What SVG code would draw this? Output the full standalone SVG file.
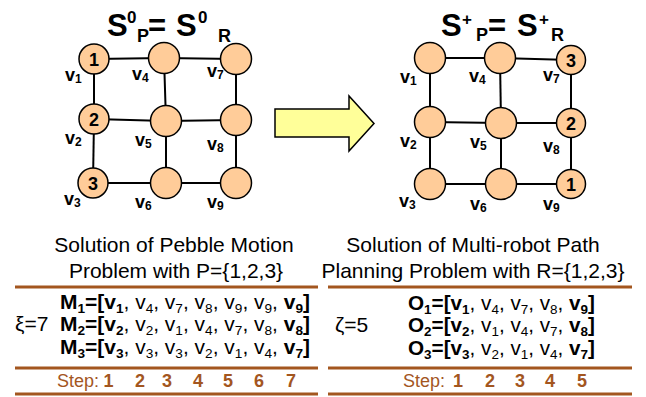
<svg xmlns="http://www.w3.org/2000/svg" width="646" height="397" viewBox="0 0 646 397">
<style>
text{font-family:"Liberation Sans",Arial,sans-serif;fill:#000}
.b{font-weight:bold}
.ttl{font-size:31px;font-weight:bold}
.sup{font-size:17px;font-weight:bold}
.sub{font-size:18px;font-weight:bold}
.lbl{font-size:18px;font-weight:bold}
.ls{font-size:12px}
.num{font-size:18px;font-weight:bold;text-anchor:middle}
.node{fill:#FFCC99;stroke:#000;stroke-width:1.5}
.edge{stroke:#000;stroke-width:2;fill:none}
.cap{font-size:21px;text-anchor:middle}
.row{font-size:20px}
.s{font-size:13px}
.rule{stroke:#A3561F;stroke-width:3}
.step{font-size:18px;fill:#A3561F}
.sd{font-size:18px;font-weight:bold;fill:#A3561F;text-anchor:middle}
</style>

<!-- titles -->
<g id="title-left">
<text class="ttl" x="107" y="36">S</text>
<text class="sup" x="127" y="23">0</text>
<text class="sub" x="137" y="42">P</text>
<text class="ttl" x="148" y="36">=</text>
<text class="ttl" x="176" y="36">S</text>
<text class="sup" x="198" y="23">0</text>
<text class="sub" x="218" y="42">R</text>
</g>
<g id="title-right">
<text class="ttl" x="441" y="36">S</text>
<text class="sup" x="462" y="25">+</text>
<text class="sub" x="476" y="41">P</text>
<text class="ttl" x="488" y="36">=</text>
<text class="ttl" x="517" y="36">S</text>
<text class="sup" x="539" y="25">+</text>
<text class="sub" x="551" y="41">R</text>
</g>

<!-- connectors -->
<g id="connectors">
<line class="edge" x1="94" y1="59" x2="164" y2="58"/>
<line class="edge" x1="164" y1="58" x2="236" y2="59"/>
<line class="edge" x1="94" y1="119" x2="166" y2="121"/>
<line class="edge" x1="166" y1="121" x2="236" y2="120"/>
<line class="edge" x1="93" y1="183" x2="166" y2="183"/>
<line class="edge" x1="166" y1="183" x2="236" y2="183"/>
<line class="edge" x1="94" y1="59" x2="94" y2="119"/>
<line class="edge" x1="94" y1="119" x2="93" y2="183"/>
<line class="edge" x1="164" y1="58" x2="166" y2="121"/>
<line class="edge" x1="166" y1="121" x2="166" y2="183"/>
<line class="edge" x1="236" y1="59" x2="236" y2="120"/>
<line class="edge" x1="236" y1="120" x2="236" y2="183"/>

<line class="edge" x1="430" y1="58" x2="500" y2="58"/>
<line class="edge" x1="500" y1="58" x2="571" y2="60"/>
<line class="edge" x1="430" y1="122" x2="501" y2="123"/>
<line class="edge" x1="501" y1="123" x2="571" y2="123"/>
<line class="edge" x1="430" y1="184" x2="501" y2="184"/>
<line class="edge" x1="501" y1="184" x2="571" y2="184"/>
<line class="edge" x1="430" y1="58" x2="430" y2="122"/>
<line class="edge" x1="430" y1="122" x2="430" y2="184"/>
<line class="edge" x1="500" y1="58" x2="501" y2="123"/>
<line class="edge" x1="501" y1="123" x2="501" y2="184"/>
<line class="edge" x1="571" y1="60" x2="571" y2="123"/>
<line class="edge" x1="571" y1="123" x2="571" y2="184"/>
</g>

<!-- left graph nodes -->
<g id="L-v1"><circle class="node" cx="94" cy="59" r="15"/><text class="num" x="94" y="65.5">1</text><text class="lbl" x="65" y="81">v<tspan class="ls" dy="2">1</tspan></text></g>
<g id="L-v4"><circle class="node" cx="164" cy="58" r="15.5"/><text class="lbl" x="132" y="80">v<tspan class="ls" dy="2">4</tspan></text></g>
<g id="L-v7"><circle class="node" cx="236" cy="59" r="15.5"/><text class="lbl" x="207" y="77">v<tspan class="ls" dy="2">7</tspan></text></g>
<g id="L-v2"><circle class="node" cx="94" cy="119" r="15"/><text class="num" x="94" y="125.5">2</text><text class="lbl" x="65" y="144">v<tspan class="ls" dy="2">2</tspan></text></g>
<g id="L-v5"><circle class="node" cx="166" cy="121" r="15.5"/><text class="lbl" x="135" y="146">v<tspan class="ls" dy="2">5</tspan></text></g>
<g id="L-v8"><circle class="node" cx="236" cy="120" r="15.5"/><text class="lbl" x="207" y="150">v<tspan class="ls" dy="2">8</tspan></text></g>
<g id="L-v3"><circle class="node" cx="93" cy="183" r="15"/><text class="num" x="93" y="189.5">3</text><text class="lbl" x="64" y="205">v<tspan class="ls" dy="2">3</tspan></text></g>
<g id="L-v6"><circle class="node" cx="166" cy="183" r="15.5"/><text class="lbl" x="135" y="208">v<tspan class="ls" dy="2">6</tspan></text></g>
<g id="L-v9"><circle class="node" cx="236" cy="183" r="15.5"/><text class="lbl" x="207" y="208">v<tspan class="ls" dy="2">9</tspan></text></g>

<!-- arrow -->
<g id="arrow"><polygon points="275,109 349,109 349,96 374,123.5 349,151 349,137 275,137" fill="#FFFF99" stroke="#000" stroke-width="1.5"/></g>

<!-- right graph nodes -->
<g id="R-v1"><circle class="node" cx="430" cy="58" r="15.5"/><text class="lbl" x="400" y="83">v<tspan class="ls" dy="2">1</tspan></text></g>
<g id="R-v4"><circle class="node" cx="500" cy="58" r="15.5"/><text class="lbl" x="469" y="82">v<tspan class="ls" dy="2">4</tspan></text></g>
<g id="R-v7"><circle class="node" cx="571" cy="60" r="14.5"/><text class="num" x="571" y="66.5">3</text><text class="lbl" x="543" y="81">v<tspan class="ls" dy="2">7</tspan></text></g>
<g id="R-v2"><circle class="node" cx="430" cy="122" r="15.5"/><text class="lbl" x="400" y="147">v<tspan class="ls" dy="2">2</tspan></text></g>
<g id="R-v5"><circle class="node" cx="501" cy="123" r="15.5"/><text class="lbl" x="470" y="148">v<tspan class="ls" dy="2">5</tspan></text></g>
<g id="R-v8"><circle class="node" cx="571" cy="123" r="14.5"/><text class="num" x="571" y="129.5">2</text><text class="lbl" x="543" y="152">v<tspan class="ls" dy="2">8</tspan></text></g>
<g id="R-v3"><circle class="node" cx="430" cy="184" r="15.5"/><text class="lbl" x="399" y="207">v<tspan class="ls" dy="2">3</tspan></text></g>
<g id="R-v6"><circle class="node" cx="501" cy="184" r="15.5"/><text class="lbl" x="470" y="210">v<tspan class="ls" dy="2">6</tspan></text></g>
<g id="R-v9"><circle class="node" cx="571" cy="184" r="14.5"/><text class="num" x="571" y="190.5">1</text><text class="lbl" x="543" y="210">v<tspan class="ls" dy="2">9</tspan></text></g>

<!-- captions -->
<g id="captions">
<text class="cap" x="174" y="252">Solution of Pebble Motion</text>
<text class="cap" x="176" y="278">Problem with P={1,2,3}</text>
<text class="cap" x="473" y="252">Solution of Multi-robot Path</text>
<text class="cap" x="473" y="278">Planning Problem with R={1,2,3}</text>
</g>

<!-- tables -->
<g id="rules">
<line class="rule" x1="15" y1="287" x2="318" y2="287"/>
<line class="rule" x1="15" y1="368" x2="318" y2="368"/>
<line class="rule" x1="15" y1="394" x2="318" y2="394"/>
<line class="rule" x1="328" y1="287" x2="632" y2="287"/>
<line class="rule" x1="328" y1="368" x2="632" y2="368"/>
<line class="rule" x1="328" y1="394" x2="632" y2="394"/>
</g>

<g id="table-left">
<text class="row" x="15" y="331" style="font-size:21px">ξ=7</text>
<text class="row" x="60" y="309" textLength="250" lengthAdjust="spacingAndGlyphs"><tspan class="b">M</tspan><tspan class="b s" dy="4">1</tspan><tspan class="b" dy="-4">=[v</tspan><tspan class="b s" dy="4">1</tspan><tspan dy="-4">, v</tspan><tspan class="s" dy="4">4</tspan><tspan dy="-4">, v</tspan><tspan class="s" dy="4">7</tspan><tspan dy="-4">, v</tspan><tspan class="s" dy="4">8</tspan><tspan dy="-4">, v</tspan><tspan class="s" dy="4">9</tspan><tspan dy="-4">, v</tspan><tspan class="s" dy="4">9</tspan><tspan dy="-4">, </tspan><tspan class="b">v</tspan><tspan class="b s" dy="4">9</tspan><tspan class="b" dy="-4">]</tspan></text>
<text class="row" x="60" y="331" textLength="250" lengthAdjust="spacingAndGlyphs"><tspan class="b">M</tspan><tspan class="b s" dy="4">2</tspan><tspan class="b" dy="-4">=[v</tspan><tspan class="b s" dy="4">2</tspan><tspan dy="-4">, v</tspan><tspan class="s" dy="4">2</tspan><tspan dy="-4">, v</tspan><tspan class="s" dy="4">1</tspan><tspan dy="-4">, v</tspan><tspan class="s" dy="4">4</tspan><tspan dy="-4">, v</tspan><tspan class="s" dy="4">7</tspan><tspan dy="-4">, v</tspan><tspan class="s" dy="4">8</tspan><tspan dy="-4">, </tspan><tspan class="b">v</tspan><tspan class="b s" dy="4">8</tspan><tspan class="b" dy="-4">]</tspan></text>
<text class="row" x="60" y="354" textLength="250" lengthAdjust="spacingAndGlyphs"><tspan class="b">M</tspan><tspan class="b s" dy="4">3</tspan><tspan class="b" dy="-4">=[v</tspan><tspan class="b s" dy="4">3</tspan><tspan dy="-4">, v</tspan><tspan class="s" dy="4">3</tspan><tspan dy="-4">, v</tspan><tspan class="s" dy="4">3</tspan><tspan dy="-4">, v</tspan><tspan class="s" dy="4">2</tspan><tspan dy="-4">, v</tspan><tspan class="s" dy="4">1</tspan><tspan dy="-4">, v</tspan><tspan class="s" dy="4">4</tspan><tspan dy="-4">, </tspan><tspan class="b">v</tspan><tspan class="b s" dy="4">7</tspan><tspan class="b" dy="-4">]</tspan></text>
<text class="step" x="57" y="387">Step:</text>
<text class="sd" x="108.5" y="387">1</text>
<text class="sd" x="140" y="387">2</text>
<text class="sd" x="167" y="387">3</text>
<text class="sd" x="198" y="387">4</text>
<text class="sd" x="228" y="387">5</text>
<text class="sd" x="259" y="387">6</text>
<text class="sd" x="291" y="387">7</text>
</g>

<g id="table-right">
<text class="row" x="335" y="332" style="font-size:21px">ζ=5</text>
<text class="row" x="408" y="310" textLength="187" lengthAdjust="spacingAndGlyphs"><tspan class="b">O</tspan><tspan class="b s" dy="4">1</tspan><tspan class="b" dy="-4">=[v</tspan><tspan class="b s" dy="4">1</tspan><tspan dy="-4">, v</tspan><tspan class="s" dy="4">4</tspan><tspan dy="-4">, v</tspan><tspan class="s" dy="4">7</tspan><tspan dy="-4">, v</tspan><tspan class="s" dy="4">8</tspan><tspan dy="-4">, </tspan><tspan class="b">v</tspan><tspan class="b s" dy="4">9</tspan><tspan class="b" dy="-4">]</tspan></text>
<text class="row" x="408" y="332" textLength="187" lengthAdjust="spacingAndGlyphs"><tspan class="b">O</tspan><tspan class="b s" dy="4">2</tspan><tspan class="b" dy="-4">=[v</tspan><tspan class="b s" dy="4">2</tspan><tspan dy="-4">, v</tspan><tspan class="s" dy="4">1</tspan><tspan dy="-4">, v</tspan><tspan class="s" dy="4">4</tspan><tspan dy="-4">, v</tspan><tspan class="s" dy="4">7</tspan><tspan dy="-4">, </tspan><tspan class="b">v</tspan><tspan class="b s" dy="4">8</tspan><tspan class="b" dy="-4">]</tspan></text>
<text class="row" x="408" y="355" textLength="187" lengthAdjust="spacingAndGlyphs"><tspan class="b">O</tspan><tspan class="b s" dy="4">3</tspan><tspan class="b" dy="-4">=[v</tspan><tspan class="b s" dy="4">3</tspan><tspan dy="-4">, v</tspan><tspan class="s" dy="4">2</tspan><tspan dy="-4">, v</tspan><tspan class="s" dy="4">1</tspan><tspan dy="-4">, v</tspan><tspan class="s" dy="4">4</tspan><tspan dy="-4">, </tspan><tspan class="b">v</tspan><tspan class="b s" dy="4">7</tspan><tspan class="b" dy="-4">]</tspan></text>
<text class="step" x="403" y="387">Step:</text>
<text class="sd" x="458" y="387">1</text>
<text class="sd" x="490" y="387">2</text>
<text class="sd" x="520" y="387">3</text>
<text class="sd" x="550" y="387">4</text>
<text class="sd" x="582" y="387">5</text>
</g>
</svg>
